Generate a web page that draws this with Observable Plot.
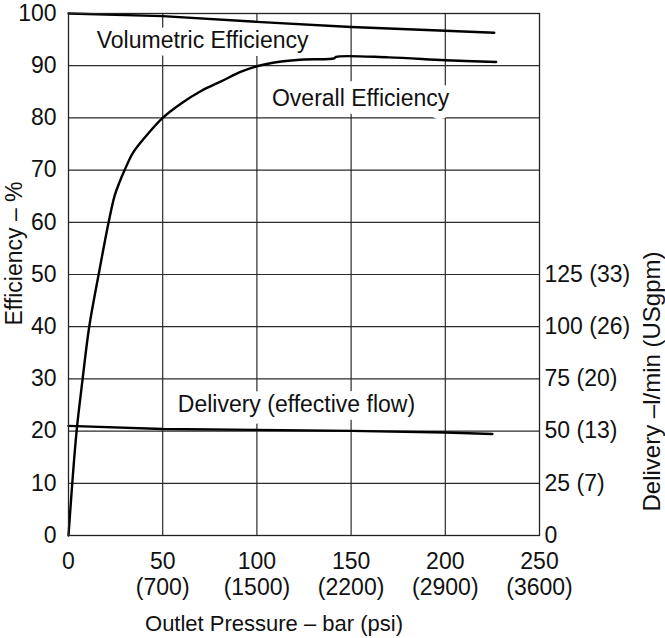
<!DOCTYPE html>
<html>
<head>
<meta charset="utf-8">
<script src="https://cdn.jsdelivr.net/npm/d3@7"></script>
<script src="https://cdn.jsdelivr.net/npm/@observablehq/plot@0.6"></script>
<style>
  html, body { margin: 0; padding: 0; background: #fff; }
</style>
</head>
<body>
<div id="chart"></div>
<script>
// Axis ticks
const pressureTicks = [0, 50, 100, 150, 200, 250];
const psiLabels = ["", "(700)", "(1500)", "(2200)", "(2900)", "(3600)"];
const efficiencyTicks = [0, 10, 20, 30, 40, 50, 60, 70, 80, 90, 100];
const deliveryTicks = [0, 25, 50, 75, 100, 125];
const usgpmLabels = ["", "(7)", "(13)", "(20)", "(26)", "(33)"];
const deliveryPerPercent = 2.5; // right axis: 125 l/min sits at 50 %

// Volumetric efficiency (%)
const volPressure = [0, 50, 100, 150, 200, 226];
const volEfficiency = [100, 99.5, 98.4, 97.4, 96.7, 96.3];

// Overall efficiency (%)
const overallPressure = [0, 2, 4.3, 7.5, 11, 16, 21.3, 24.5, 27.1, 29.8, 34.2, 40.4, 50, 60, 70.6, 81, 92, 100, 113, 125, 141, 142, 170, 200, 227];
const overallEfficiency = [0, 10, 20, 30, 40, 50, 60, 65.1, 67.7, 70, 73.3, 76.2, 80, 82.8, 85.2, 87, 88.9, 89.9, 90.8, 91.2, 91.4, 91.7, 91.6, 91.05, 90.7];

// Delivery (effective flow), l/min
const deliveryPressure = [0, 50, 100, 150, 200, 225];
const deliveryFlow = [52.5, 51.0, 50.6, 50.1, 49.3, 48.6];

// Curve labels
const labelText = ["Volumetric Efficiency", "Overall Efficiency", "Delivery (effective flow)"];
const labelPressure = [15, 108, 58];
const labelEfficiency = [94.8, 83.6, 25.0];

const vol = volPressure.map((p, i) => ({p, e: volEfficiency[i]}));
const overall = overallPressure.map((p, i) => ({p, e: overallEfficiency[i]}));
const delivery = deliveryPressure.map((p, i) => ({p, e: deliveryFlow[i] / deliveryPerPercent}));
const labels = labelText.map((t, i) => ({t, p: labelPressure[i], e: labelEfficiency[i]}));
const rightTickPos = deliveryTicks.map(d => d / deliveryPerPercent);

const font = "'Liberation Sans', Arial, Helvetica, sans-serif";
const fs = 23;

const chart = Plot.plot({
  width: 665,
  height: 638,
  marginLeft: 68,
  marginRight: 126,
  marginTop: 13,
  marginBottom: 103,
  style: {fontFamily: font, fontSize: fs + "px", color: "#111", background: "#fff"},
  x: {domain: [0, 250]},
  y: {domain: [0, 100]},
  marks: [
    Plot.ruleY(efficiencyTicks.slice(1, -1), {stroke: "#2a2a2a", strokeWidth: 1.2}),
    Plot.ruleX(pressureTicks.slice(1, -1), {stroke: "#2a2a2a", strokeWidth: 1.2}),
    Plot.text(labels, {x: "p", y: "e", text: "t", textAnchor: "start", lineAnchor: "middle", fontSize: fs,
      fill: "#111", stroke: "white", strokeWidth: 16, strokeLinejoin: "round"}),
    Plot.line(vol, {x: "p", y: "e", stroke: "#000", strokeWidth: 2.4}),
    Plot.line(overall, {x: "p", y: "e", stroke: "#000", strokeWidth: 2.4, curve: "catmull-rom"}),
    Plot.line(delivery, {x: "p", y: "e", stroke: "#000", strokeWidth: 2.4}),
    Plot.frame({stroke: "#222", strokeWidth: 1.3}),
    Plot.axisY({ticks: efficiencyTicks, tickSize: 0, tickPadding: 12, label: null, fontSize: fs}),
    Plot.axisY({anchor: "right", ticks: rightTickPos, tickSize: 0, tickPadding: 5, label: null, fontSize: fs,
      tickFormat: (d) => {
        const i = rightTickPos.indexOf(d);
        return usgpmLabels[i] ? `${deliveryTicks[i]} ${usgpmLabels[i]}` : `${deliveryTicks[i]}`;
      }}),
    Plot.axisX({ticks: pressureTicks, tickSize: 0, tickPadding: 16, label: null, fontSize: fs,
      lineHeight: 1.1, lineAnchor: "top",
      tickFormat: (d) => {
        const i = pressureTicks.indexOf(d);
        return psiLabels[i] ? `${d}\n${psiLabels[i]}` : `${d}`;
      }}),
    Plot.text(["Outlet Pressure – bar (psi)"], {frameAnchor: "bottom", textAnchor: "middle", lineAnchor: "middle",
      dx: -30, dy: 88, fontSize: 22, fill: "#111"}),
    Plot.text(["Efficiency – %"], {frameAnchor: "left", textAnchor: "middle", lineAnchor: "middle",
      rotate: -90, dx: -54, dy: -21, fontSize: fs, fill: "#111"}),
    Plot.text(["Delivery –l/min (USgpm)"], {frameAnchor: "right", textAnchor: "middle", lineAnchor: "middle",
      rotate: -90, dx: 113, dy: 107, fontSize: 24, fill: "#111"})
  ]
});
document.getElementById("chart").appendChild(chart);
</script>
</body>
</html>
